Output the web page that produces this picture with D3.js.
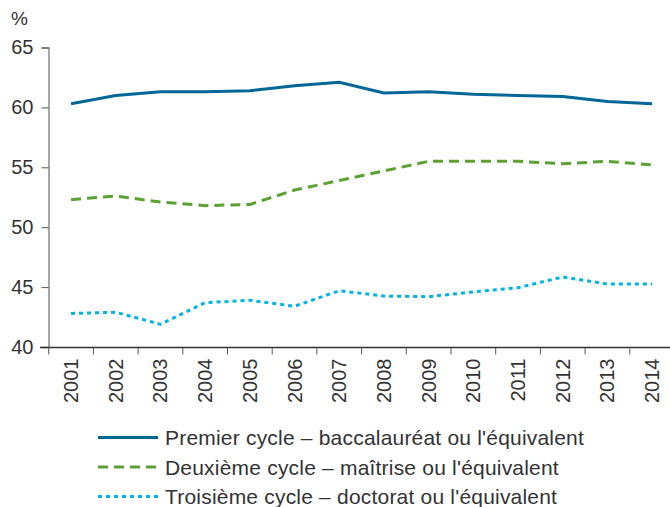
<!DOCTYPE html>
<html><head><meta charset="utf-8">
<script src="https://cdn.jsdelivr.net/npm/d3@7"></script>
<style>
body{margin:0;background:#fff;}
text{font-family:"Liberation Sans",Arial,sans-serif;fill:#333;}
</style></head>
<body><svg id="c" width="670" height="507"></svg>
<script>
const years = ["2001","2002","2003","2004","2005","2006","2007","2008","2009","2010","2011","2012","2013","2014"];
const premier = [60.3,61.0,61.3,61.3,61.4,61.8,62.1,61.2,61.3,61.1,61.0,60.9,60.5,60.3];
const deuxieme = [52.3,52.6,52.1,51.8,51.9,53.1,53.9,54.7,55.5,55.5,55.5,55.3,55.5,55.2];
const troisieme = [42.8,42.9,41.9,43.7,43.9,43.4,44.7,44.25,44.2,44.6,44.95,45.85,45.25,45.25];
const yTicks = [40,45,50,55,60,65];
const seriesNames = ["Premier cycle – baccalauréat ou l'équivalent","Deuxième cycle – maîtrise ou l'équivalent","Troisième cycle – doctorat ou l'équivalent"];

const svg = d3.select("#c");
const x = d3.scaleBand().domain(years).range([48.7, 674.5]);
const y = d3.scaleLinear().domain([40,65]).range([347,47.5]);

// y axis
const ya = svg.append("g").attr("transform","translate(48.5,0)")
  .call(d3.axisLeft(y).tickValues(yTicks).tickSize(7).tickPadding(8));
ya.select(".domain").attr("stroke","#888").attr("stroke-width",1.5);
ya.selectAll(".tick line").attr("stroke","#555");
ya.selectAll(".tick text").style("font-size","20px").attr("fill","#333");

// x axis
const xg = svg.append("g").attr("transform","translate(0,347.5)");
xg.append("line").attr("x1",40).attr("x2",670).attr("stroke","#333").attr("stroke-width",1.5);
xg.selectAll(".tk").data(years).join("line").attr("class","tk")
  .attr("x1",d=>x(d)).attr("x2",d=>x(d)).attr("y1",0).attr("y2",7)
  .attr("stroke","#555");
xg.selectAll(".lb").data(years).join("text").attr("class","lb")
  .attr("transform",d=>`translate(${x(d)+x.bandwidth()/2+7},11) rotate(-90)`)
  .attr("text-anchor","end").style("font-size","20px").text(d=>d);

svg.append("text").attr("x",11).attr("y",25).style("font-size","19px").text("%");

const styles = [
  {color:"#006797", dash:null},
  {color:"#5ba233", dash:"10,6"},
  {color:"#00b4e6", dash:"4,4"}
];
const data = [premier, deuxieme, troisieme];
const line = d3.line().x((d,i)=>x(years[i])+x.bandwidth()/2).y(d=>y(d));
data.forEach((s,k)=>{
  svg.append("path").datum(s).attr("d",line).attr("fill","none")
    .attr("stroke",styles[k].color).attr("stroke-width",3)
    .attr("stroke-dasharray",styles[k].dash);
});

// legend
const lg = svg.append("g");
seriesNames.forEach((n,k)=>{
  const yy = 437.5 + k*29.5;
  lg.append("line").attr("x1",98).attr("x2",158).attr("y1",yy).attr("y2",yy)
    .attr("stroke",styles[k].color).attr("stroke-width",3)
    .attr("stroke-dasharray",styles[k].dash);
  lg.append("text").attr("x",165).attr("y",yy+7.5).style("font-size","21px")
    .style("letter-spacing","0.2px").text(n);
});
</script></body></html>
